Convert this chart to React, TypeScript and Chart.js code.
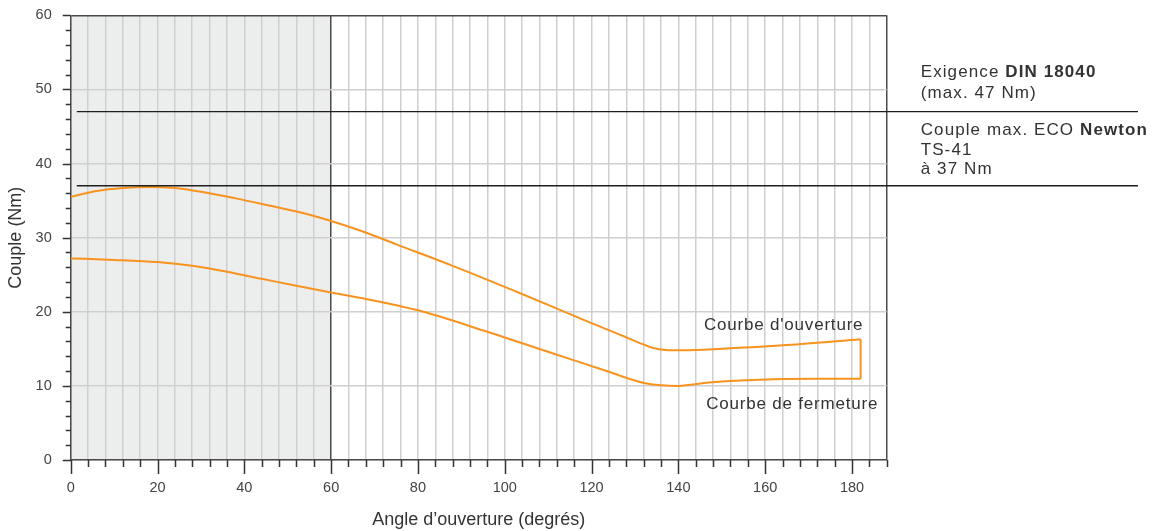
import { useEffect, useRef } from 'react';
import { Chart, registerables } from 'chart.js';

Chart.register(...registerables);

// ---- data ----
const openingAngles = [0, 6, 12, 18, 24, 30, 38, 46, 53, 60, 67, 75, 88, 104, 119, 127, 131, 134, 137, 141, 150, 165, 182];
const openingTorque = [35.5, 36.3, 36.7, 36.85, 36.7, 36.2, 35.3, 34.3, 33.4, 32.25, 30.9, 29.1, 26.2, 22.4, 18.7, 16.8, 15.8, 15.15, 14.85, 14.8, 15.0, 15.5, 16.3];
const closingAngles = [0, 10, 20, 28, 36, 44, 52, 60, 67, 80, 96, 111, 124, 129, 132, 136, 140, 147, 157, 172, 182];
const closingTorque = [27.2, 27.0, 26.7, 26.2, 25.4, 24.45, 23.5, 22.6, 21.85, 20.2, 17.3, 14.4, 11.9, 10.9, 10.4, 10.1, 10.0, 10.45, 10.8, 10.95, 10.95];
const endAngle = 182;
const xLabelValues = [0, 20, 40, 60, 80, 100, 120, 140, 160, 180];
const yLabelValues = [0, 10, 20, 30, 40, 50, 60];
const limitDin = 47;
const limitNewton = 37;
const shadedAngles = [0, 60];
const xTitle = 'Angle d’ouverture (degrés)';
const yTitle = 'Couple (Nm)';
const dinText: [string, boolean][][] = [
  [['Exigence ', false], ['DIN 18040', true]],
  [['(max. 47 Nm)', false]],
];
const newtonText: [string, boolean][][] = [
  [['Couple max. ECO ', false], ['Newton', true]],
  [['TS-41', false]],
  [['à 37 Nm', false]],
];
const openingLabel = 'Courbe d\'ouverture';
const closingLabel = 'Courbe de fermeture';

// ---- styles ----
const FONT = '"Liberation Sans", Arial, Helvetica, sans-serif';
const ORANGE = '#f7931e';
const TEXT = '#333333';
const DARK = '#4a4a4a';
const GRID = '#cfcfcf';

function drawRich(ctx: CanvasRenderingContext2D, parts: [string, boolean][], x: number, y: number) {
  let cx = x;
  for (const [t, bold] of parts) {
    ctx.font = `${bold ? 'bold ' : ''}17px ${FONT}`;
    ctx.fillText(t, cx, y);
    cx += ctx.measureText(t).width;
  }
}

const decor = {
  id: 'decor',
  beforeDraw(chart: any) {
    const { ctx, chartArea: a, scales } = chart;
    const x0 = scales.x.getPixelForValue(shadedAngles[0]);
    const x1 = scales.x.getPixelForValue(shadedAngles[1]);
    ctx.save();
    ctx.fillStyle = '#eceeed';
    ctx.fillRect(x0, a.top, x1 - x0, a.bottom - a.top);
    ctx.restore();
  },
  afterDraw(chart: any) {
    const { ctx, chartArea: a, scales } = chart;
    const xs = scales.x;
    const ys = scales.y;
    ctx.save();
    // tick marks
    ctx.strokeStyle = '#333';
    ctx.lineWidth = 1.5;
    ctx.beginPath();
    for (const t of xs.ticks) {
      const px = Math.round(xs.getPixelForValue(t.value)) + 0.5;
      const len = t.value % 20 === 0 ? 14 : 7;
      ctx.moveTo(px, a.bottom);
      ctx.lineTo(px, a.bottom + len);
    }
    for (const t of ys.ticks) {
      const py = Math.round(ys.getPixelForValue(t.value)) + 0.5;
      const len = t.value % 10 === 0 ? 8 : 5;
      ctx.moveTo(a.left, py);
      ctx.lineTo(a.left - len, py);
    }
    ctx.stroke();

    // limit lines
    ctx.strokeStyle = '#1e1e1e';
    ctx.lineWidth = 1.3;
    ctx.beginPath();
    for (const v of [limitDin, limitNewton]) {
      const py = ys.getPixelForValue(v);
      ctx.moveTo(xs.getPixelForValue(1.4), py);
      ctx.lineTo(chart.width - 20, py);
    }
    ctx.stroke();

    // texts
    ctx.fillStyle = TEXT;
    ctx.textAlign = 'left';
    ctx.textBaseline = 'alphabetic';
    (ctx as any).letterSpacing = '1.1px';
    const tx = a.right + 34;
    const yd = ys.getPixelForValue(limitDin);
    drawRich(ctx, dinText[0], tx, yd - 34.5);
    drawRich(ctx, dinText[1], tx, yd - 13.7);
    const yn = ys.getPixelForValue(limitNewton);
    drawRich(ctx, newtonText[0], tx, yn - 50.5);
    drawRich(ctx, newtonText[1], tx, yn - 31);
    drawRich(ctx, newtonText[2], tx, yn - 11.8);

    (ctx as any).letterSpacing = '0.8px';
    ctx.font = `17px ${FONT}`;
    ctx.fillText(openingLabel, xs.getPixelForValue(145.9), ys.getPixelForValue(17.57));
    ctx.fillText(closingLabel, xs.getPixelForValue(146.4), ys.getPixelForValue(6.9));
    ctx.restore();
  },
};

export default function App() {
  const ref = useRef<HTMLCanvasElement>(null);
  useEffect(() => {
    const canvas = ref.current!;
    const pts = (xs: number[], ys: number[]) => xs.map((x, i) => ({ x, y: ys[i] }));
    const lineStyle = {
      borderColor: ORANGE,
      borderWidth: 2,
      pointRadius: 0,
      fill: false,
    };
    const chart = new Chart(canvas, {
      type: 'line',
      data: {
        datasets: [
          { ...lineStyle, label: openingLabel, data: pts(openingAngles, openingTorque), cubicInterpolationMode: 'monotone' },
          {
            ...lineStyle,
            label: 'join',
            data: [
              { x: endAngle, y: openingTorque[openingTorque.length - 1] },
              { x: endAngle, y: closingTorque[closingTorque.length - 1] },
            ],
            tension: 0,
          },
          { ...lineStyle, label: closingLabel, data: pts(closingAngles, closingTorque), cubicInterpolationMode: 'monotone' },
        ],
      } as any,
      options: {
        animation: false,
        responsive: false,
        devicePixelRatio: 1,
        layout: { padding: { left: 0, top: 15.3, right: 271.3, bottom: 0 } },
        plugins: { legend: { display: false }, tooltip: { enabled: false } },
        scales: {
          x: {
            type: 'linear',
            min: 0,
            max: 188,
            afterFit: (s: any) => { s.height = 71; },
            ticks: {
              stepSize: 4,
              autoSkip: false,
              maxRotation: 0,
              maxTicksLimit: 200,
              padding: 19,
              color: '#444',
              font: { family: FONT, size: 14.5 },
              callback: (v: any) => (xLabelValues.includes(Number(v)) ? String(v) : ''),
            },
            grid: {
              drawTicks: false,
              color: (c: any) => (c.tick && (c.tick.value === 60 || c.tick.value === 188) ? DARK : GRID),
              lineWidth: 1.5,
            },
            border: { color: DARK, width: 1.5 },
            title: {
              display: true,
              text: xTitle,
              color: TEXT,
              font: { family: FONT, size: 18 },
              padding: { top: 0, bottom: 0.5 },
            },
          },
          y: {
            type: 'linear',
            min: 0,
            max: 60,
            afterFit: (s: any) => {
              s.width = 70.7;
              s.paddingTop = 0;
              s.paddingBottom = 0;
            },
            ticks: {
              stepSize: 2,
              autoSkip: false,
              maxTicksLimit: 200,
              padding: 19,
              color: '#444',
              font: { family: FONT, size: 14.5 },
              callback: (v: any) => (yLabelValues.includes(Number(v)) ? String(v) : ''),
            },
            grid: {
              drawTicks: false,
              color: (c: any) => {
                const v = c.tick ? c.tick.value : 0;
                if (v === 60) return DARK;
                return v % 10 === 0 ? GRID : 'rgba(0,0,0,0)';
              },
              lineWidth: 1.5,
            },
            border: { color: DARK, width: 1.5 },
            title: {
              display: true,
              text: yTitle,
              color: TEXT,
              font: { family: FONT, size: 18 },
              padding: { top: 5.4, bottom: 0 },
            },
          },
        },
      } as any,
      plugins: [decor as any],
    });
    return () => chart.destroy();
  }, []);

  return (
    <div style={{ position: 'absolute', left: 0, top: 0, width: 1158, height: 531, background: '#fff' }}>
      <canvas ref={ref} width={1158} height={531} />
    </div>
  );
}
